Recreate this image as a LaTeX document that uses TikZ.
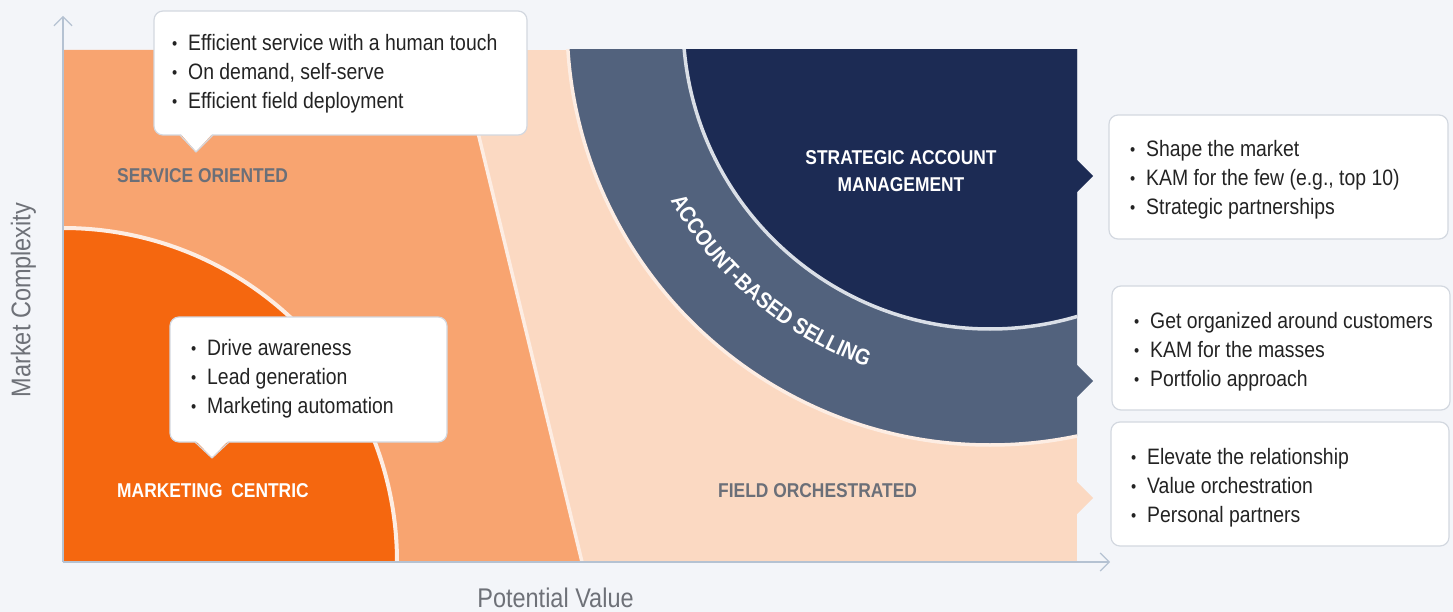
\documentclass[tikz,border=0pt]{standalone}
\usepackage{fontspec}
\setmainfont{Liberation Sans}[FakeStretch=0.87]
\usetikzlibrary{arrows.meta,decorations.text}
\definecolor{bg}{HTML}{F3F5F9}
\definecolor{peach}{HTML}{FBD9C2}
\definecolor{midor}{HTML}{F8A470}
\definecolor{darkor}{HTML}{F5670F}
\definecolor{slate}{HTML}{52627D}
\definecolor{navy}{HTML}{1C2B54}
\definecolor{pale}{HTML}{FDEDE3}
\definecolor{ringline}{HTML}{DADFE7}
\definecolor{axiscol}{HTML}{B5C2D2}
\definecolor{cbord}{HTML}{D3D8E0}
\definecolor{txt}{HTML}{232323}
\definecolor{lbl}{HTML}{6B6F78}
\definecolor{axlbl}{HTML}{6E7178}
\newcommand\bul{\makebox[16pt][l]{\raisebox{1pt}{\fontsize{17}{17}\selectfont •}}}
\tikzset{
  itemline/.style={anchor=base west, inner sep=0pt, text=txt, font=\fontsize{22.3}{26}\selectfont},
  cat/.style={inner sep=0pt, font=\bfseries\fontsize{20}{27}\selectfont},
  callbox/.style={fill=white, draw=cbord, line width=1.2pt, rounded corners=9pt},
  pointer/.style={draw=cbord, line width=1.2pt, line join=round},
  axisline/.style={draw=axiscol, line width=1.2pt, -{Straight Barb[length=9pt,width=18pt,line width=1.2pt]}},
  axlabel/.style={inner sep=0pt, text=axlbl, font=\fontsize{27}{30}\selectfont},
}
\begin{document}
\begin{tikzpicture}[x=1pt,y=-1pt]
\useasboundingbox (0,0) rectangle (1453,612);
\fill[bg] (0,0) rectangle (1453,612);
% regions
\begin{scope}
  \clip (63,50) rectangle (1077,562);
  \fill[peach] (63,50) rectangle (1077,562);
  \fill[midor] (63,50) -- (458,50) -- (582,562) -- (63,562) -- cycle;
  \draw[pale, line width=3.5pt] (458,50) -- (582,562);
  \filldraw[fill=darkor, draw=pale, line width=4pt] (63,562) circle[radius=334];
  \filldraw[fill=slate, draw=pale, line width=3.5pt] (990,22) circle[radius=423];
  \filldraw[fill=navy, draw=ringline, line width=3.5pt] (990,22) circle[radius=307];
\end{scope}
% side pointers
\fill[navy] (1077,160) -- (1093,176) -- (1077,192) -- cycle;
\fill[slate] (1077,365) -- (1093,381) -- (1077,397) -- cycle;
\fill[peach] (1077,482) -- (1093,498) -- (1077,514) -- cycle;
% axes
\coordinate (O) at (63,562);
\coordinate (ytip) at (63,16);
\coordinate (xtip) at (1110,562);
\draw[axisline] (O) -- (ytip);
\draw[axisline] (O) -- (xtip);
\node[axlabel, rotate=90, anchor=base] (ylab) at (30.5,300) {Market Complexity};
\node[axlabel, anchor=base] (xlab) at (555.5,607) {Potential Value};
% arc text
\path[decorate, decoration={text along path, text align=center,
  text={|\color{white}\bfseries\fontsize{22.5}{22.5}\selectfont|ACCOUNT-BASED SELLING}}]
  (990,22) ++(152:366) arc[start angle=152, end angle=108.5, radius=366];
% category labels
\node[cat, text=lbl, anchor=west] (so) at (117,176) {SERVICE ORIENTED};
\node[cat, text=white, anchor=west] (mc) at (117,491) {MARKETING\hspace{4pt} CENTRIC};
\node[cat, text=lbl, anchor=west] (fo) at (718,491) {FIELD ORCHESTRATED};
\node[cat, text=white, align=center] (sam) at (901,171) {STRATEGIC ACCOUNT\\MANAGEMENT};
% callout 1
\draw[callbox] (154,11) rectangle (527,135);
\fill[white] (180,133) -- (196,151.5) -- (213,133) -- cycle;
\draw[pointer] (180,135) -- (196,152) -- (213,135);
\node[itemline] (c1a) at (172,51) {\bul Efficient service with a human touch};
\node[itemline] (c1b) at (172,80) {\bul On demand, self-serve};
\node[itemline] (c1c) at (172,109) {\bul Efficient field deployment};
% callout 2
\draw[callbox] (170,317) rectangle (447,442);
\fill[white] (195,440) -- (212,457.5) -- (229,440) -- cycle;
\draw[pointer] (195,442) -- (212,458) -- (229,442);
\node[itemline] (c2a) at (191,355) {\bul Drive awareness};
\node[itemline] (c2b) at (191,384) {\bul Lead generation};
\node[itemline] (c2c) at (191,413) {\bul Marketing automation};
% right callouts
\draw[callbox] (1109,115) rectangle (1448,239);
\node[itemline] (ra) at (1130,157) {\bul Shape the market};
\node[itemline] (rb) at (1130,186) {\bul KAM for the few (e.g., top 10)};
\node[itemline] (rc) at (1130,215) {\bul Strategic partnerships};
\draw[callbox] (1112,286) rectangle (1450,410);
\node[itemline] (rd) at (1134,328) {\bul Get organized around customers};
\node[itemline] (re) at (1134,357) {\bul KAM for the masses};
\node[itemline] (rf) at (1134,386) {\bul Portfolio approach};
\draw[callbox] (1111,422) rectangle (1449,546);
\node[itemline] (rg) at (1131,464) {\bul Elevate the relationship};
\node[itemline] (rh) at (1131,493) {\bul Value orchestration};
\node[itemline] (ri) at (1131,522) {\bul Personal partners};
\end{tikzpicture}
\end{document}
